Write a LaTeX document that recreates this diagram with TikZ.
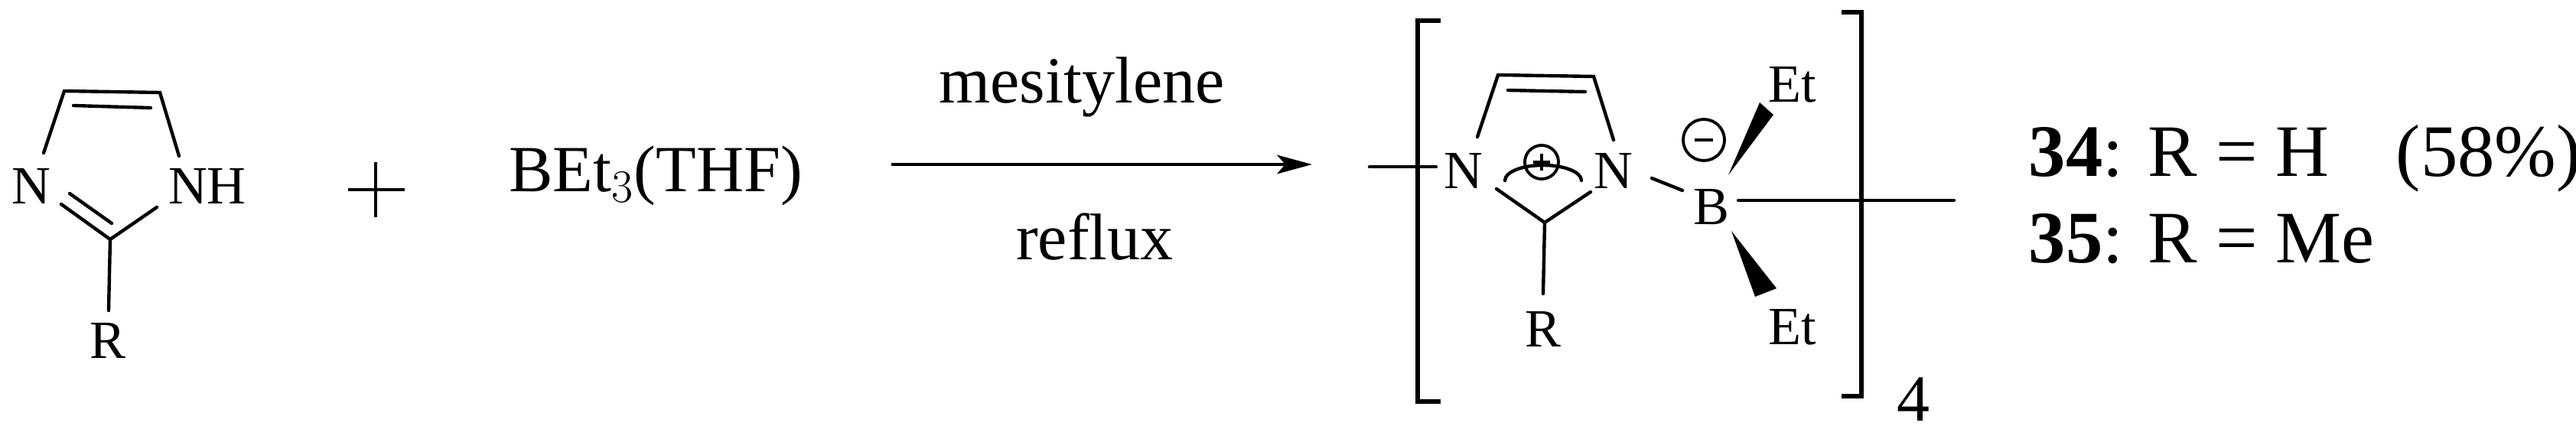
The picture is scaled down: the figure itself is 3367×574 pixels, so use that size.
\documentclass[tikz,border=0pt]{standalone}
\usepackage{fontspec}
\setmainfont{Liberation Serif}
\usetikzlibrary{arrows.meta}
\begin{document}
\begin{tikzpicture}[x=0.01cm,y=-0.01cm,
  bond/.style={line width=1.25pt,line cap=round},
  lab/.style={inner sep=0pt,font=\fontsize{20}{24}\selectfont},
  big/.style={inner sep=0pt,font=\fontsize{24.5}{29}\selectfont},
  cmpd/.style={inner sep=0pt,anchor=base west,font=\fontsize{27.5}{33}\selectfont}]
\useasboundingbox (0,0) rectangle (3367,574);
% reactant imidazole
\coordinate (a4) at (84,119); \coordinate (a5) at (209,121);
\coordinate (a4b) at (57,200); \coordinate (a5b) at (234,204);
\coordinate (ac2) at (144,313);
\node[lab] (aN) at (41,243) {N};
\node[lab] (aNH) at (271,243) {NH};
\node[lab] (aR) at (141,445) {R};
\draw[bond] (a4b) -- (a4) -- (a5) -- (a5b);
\draw[bond] (96,138) -- (197,141);
\draw[bond] (80,267) -- (ac2) -- (205,271);
\draw[bond] (91,253) -- (146,292);
\draw[bond] (ac2) -- (142,406);
% plus
\node[inner sep=0pt] (plus) at (491,248) {};
\draw[line width=1.2pt] (455,248) -- (529,248) (491,212) -- (491,284);
\node[big,anchor=base] (bet) at (857,251) {BEt$_3$(THF)};
% arrow
\coordinate (arS) at (1165,215); \coordinate (arE) at (1715,215);
\draw[line width=1.3pt,-{Stealth[length=13pt,width=7pt,inset=3pt]}] (arS) -- (arE);
\node[big,anchor=base] (mes) at (1414,135) {mesitylene};
\node[big,anchor=base] (ref) at (1431,340) {reflux};
% product
\draw[bond] (1790,218) -- (1877,218);
\draw[line width=1.55pt] (1883,27) -- (1853,27) -- (1853,525) -- (1883,525);
\draw[line width=1.55pt] (2407,16) -- (2433,16) -- (2433,518) -- (2407,518);
\node[big] (four) at (2501,522) {4};
\node[lab] (N1) at (1913,223) {N};
\node[lab] (N3) at (2109,223) {N};
\coordinate (p4) at (1958,98); \coordinate (p5) at (2083,100);
\coordinate (pc2) at (2019,291);
\draw[bond] (1931,179) -- (p4) -- (p5) -- (2109,183);
\draw[bond] (1971,118) -- (2072,120);
\draw[bond] (1956,247) -- (pc2) -- (2079,251);
\draw[bond] (pc2) -- (2017,384);
\node[lab] (pR) at (2017,430) {R};
\draw[line width=1.1pt] (2015,212) circle (22);
\draw[line width=1.1pt] (2004,212) -- (2026,212) (2015,201) -- (2015,223);
\draw[bond] (1967,236) arc[start angle=180,end angle=360,x radius=50,y radius=20];
\draw[bond] (2159,233) -- (2199,249);
\node[lab] (B) at (2237,271) {B};
\draw[line width=1.1pt] (2227,183) circle (27);
\draw[line width=1.1pt] (2215,183) -- (2239,183);
\fill (2259,229) -- (2300,134) -- (2318,150) -- cycle;
\fill (2263,302) -- (2294,388) -- (2322,377) -- cycle;
\node[lab] (Et1) at (2343,111) {Et};
\node[lab] (Et2) at (2343,428) {Et};
\draw[bond] (2272,262) -- (2554,262);
\node[cmpd] (c34) at (2651,231) {\textbf{34}: R = H\hspace{0.9em}(58\%)};
\node[cmpd] (c35) at (2651,344) {\textbf{35}: R = Me};
\end{tikzpicture}
\end{document}
